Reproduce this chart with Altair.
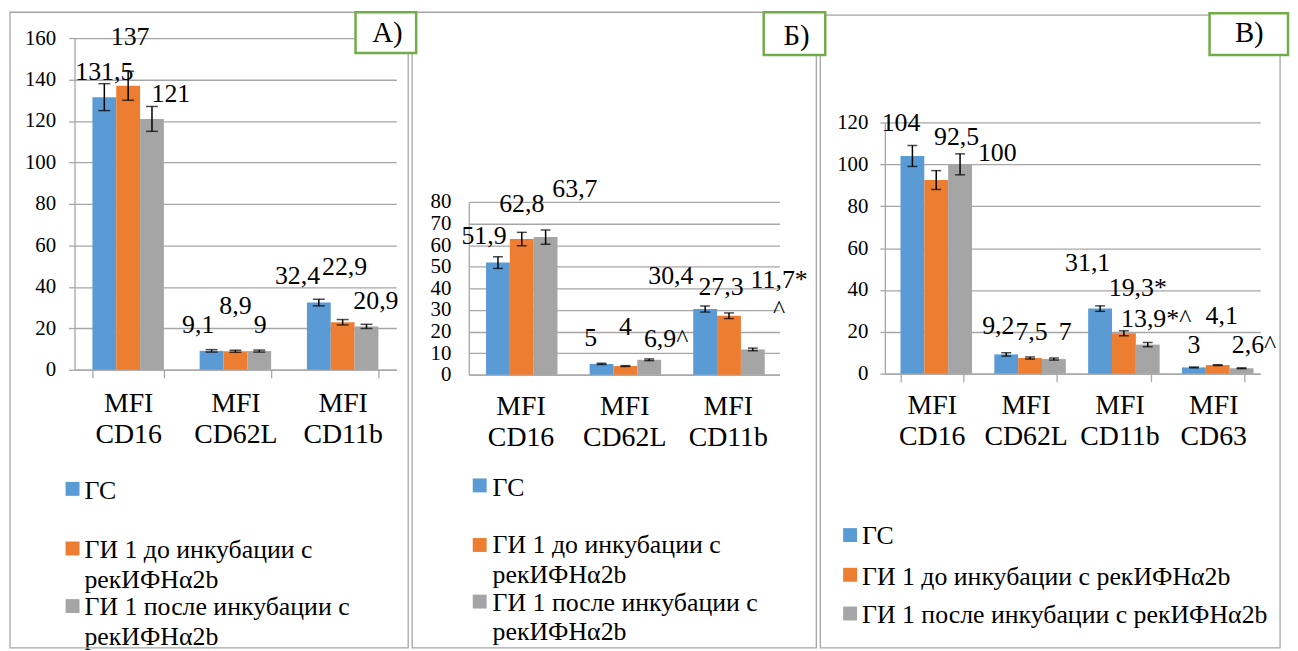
import altair as alt
import pandas as pd

FONT = "'Liberation Serif', 'Times New Roman', Times, serif"
GRAY = "#a6a6a6"
GREEN = "#70AD47"

# ---------------- data ----------------
series = ["ГС", "ГИ 1 до инкубации с рекИФНα2b", "ГИ 1 после инкубации с рекИФНα2b"]
colors = ["#5B9BD5", "#ED7D31", "#A5A5A5"]

# Panel А
cats_A = ["MFI CD16", "MFI CD62L", "MFI CD11b"]
A_gs = [131.5, 9.1, 32.4]
A_before = [137, 8.9, 22.9]
A_after = [121, 9, 20.9]
A_gs_err = [6.5, 0.6, 1.6]
A_before_err = [7, 0.5, 1.3]
A_after_err = [6, 0.5, 1.0]
A_labels = ["131,5", "137", "121", "9,1", "8,9", "9", "32,4", "22,9", "20,9"]

# Panel Б
cats_B = ["MFI CD16", "MFI CD62L", "MFI CD11b"]
B_gs = [51.9, 5, 30.4]
B_before = [62.8, 4, 27.3]
B_after = [63.7, 6.9, 11.7]
B_gs_err = [2.7, 0.3, 1.4]
B_before_err = [3.1, 0.2, 1.3]
B_after_err = [3.3, 0.4, 0.6]
B_labels = ["51,9", "62,8", "63,7", "5", "4", "6,9^", "30,4", "27,3", "11,7*\n^"]

# Panel В
cats_C = ["MFI CD16", "MFI CD62L", "MFI CD11b", "MFI CD63"]
C_gs = [104, 9.2, 31.1, 3]
C_before = [92.5, 7.5, 19.3, 4.1]
C_after = [100, 7, 13.9, 2.6]
C_gs_err = [5, 0.8, 1.3, 0.2]
C_before_err = [4.5, 0.5, 1.2, 0.2]
C_after_err = [5, 0.5, 1.0, 0.2]
C_labels = ["104", "92,5", "100", "9,2", "7,5", "7", "31,1", "19,3*", "13,9*^", "3", "4,1", "2,6^"]

legend_lines_wrapped = [["ГС"], ["ГИ 1 до инкубации с", "рекИФНα2b"], ["ГИ 1 после инкубации с", "рекИФНα2b"]]
legend_lines_single = [["ГС"], ["ГИ 1 до инкубации с рекИФНα2b"], ["ГИ 1 после инкубации с рекИФНα2b"]]

# ---------------- layout (pixel offsets, styling) ----------------
A_dx = [0, 2, 19, -13.5, 0, 1, -21.5, 2, 9.5]
A_dy = [-25.5, -49.5, -25.4, -26, -46, -26, -26.4, -56, -25.4]
B_dx = [-14, 0, 29.5, -11, 0, 17, -34.5, -8, 26.5]
B_dy = [-26.6, -35.4, -48, -26, -39, -21, -33.4, -28.6, -69.6]
C_dx = [-11.5, 20.5, 37.5, -8, 1.5, 11.5, -12.5, 14, 8.5, 0, 4, 12.5]
C_dy = [-32.8, -43, -11.7, -29, -25.7, -26.7, -46, -46, -26, -23, -49, -23]

one = pd.DataFrame({"z": [0]})


def build_df(cats, vals, errs, labels):
    rows = []
    for ci, c in enumerate(cats):
        for si, s in enumerate(series):
            v = vals[si][ci]
            e = errs[si][ci]
            rows.append(dict(cat=c, ser=s, val=v, lo=v - e, hi=v + e,
                             lab=labels[ci * len(series) + si]))
    return pd.DataFrame(rows)


def make_panel(cats, vals, errs, labels, dxs, dys, W, H, ymax, ystep, yrange,
               ytick, ylabpad, xtick, xlabpad, cap, frame, leg, extra=None):
    df = build_df(cats, vals, errs, labels)

    xaxis = dict(title=None, labelExpr="split(datum.label, ' ')", labelFont=FONT,
                 labelFontSize=28, labelLineHeight=31, labelColor="black", labelAngle=0,
                 domainColor=GRAY, domainWidth=1.3, tickBand="extent", tickColor=GRAY,
                 tickWidth=1.3, labelPadding=xlabpad, grid=False)
    if xtick > 0:
        xaxis.update(ticks=True, tickSize=xtick)
    else:
        xaxis.update(ticks=False)
    X = alt.X("cat:N", sort=cats,
              scale=alt.Scale(domain=cats, paddingInner=1 / 3, paddingOuter=1 / 6),
              axis=alt.Axis(**xaxis))
    XO = alt.XOffset("ser:N", sort=series,
                     scale=alt.Scale(domain=series, paddingInner=0, paddingOuter=0))

    yaxis = dict(title=None, values=list(range(0, ymax + 1, ystep)), grid=True,
                 gridColor=GRAY, gridWidth=1.3, domain=True, domainColor=GRAY,
                 domainWidth=1.3, tickColor=GRAY, tickWidth=1.3, labelFont=FONT,
                 labelFontSize=21, labelColor="black", labelPadding=ylabpad)
    if ytick > 0:
        yaxis.update(ticks=True, tickSize=ytick)
    else:
        yaxis.update(ticks=False)
    sc = dict(domain=[0, ymax], nice=False)
    if yrange is not None:
        sc["range"] = yrange
    yscale = alt.Scale(**sc)
    yax = alt.Axis(**yaxis)

    def Y(f):
        return alt.Y(f, scale=yscale, axis=yax)

    color = alt.Color("ser:N", scale=alt.Scale(domain=series, range=colors), legend=None)

    layers = []
    layers.append(alt.Chart(df).mark_bar().encode(x=X, xOffset=XO, y=Y("val:Q"), color=color))
    layers.append(alt.Chart(df).mark_rule(color="black", strokeWidth=1.5).encode(
        x=X, xOffset=XO, y=Y("lo:Q"), y2="hi:Q"))
    for f in ["lo:Q", "hi:Q"]:
        layers.append(alt.Chart(df).mark_tick(color="black", size=cap, thickness=1.5).encode(
            x=X, xOffset=XO, y=Y(f)))
    for i in range(len(df)):
        layers.append(alt.Chart(df.iloc[[i]]).mark_text(
            dx=dxs[i], dy=dys[i], align="center", baseline="middle", font=FONT,
            fontSize=26, color="black", lineBreak="\n", lineHeight=30).encode(
            x=X, xOffset=XO, y=Y("val:Q"), text="lab:N"))

    # legend (decoration)
    sx, tx, sq_c, txt_c, lines = leg
    for i, items in enumerate(lines):
        cy = sq_c[i]
        layers.append(alt.Chart(one).mark_rect(color=colors[i]).encode(
            x=alt.value(sx), x2=alt.value(sx + 14), y=alt.value(cy - 7), y2=alt.value(cy + 7)))
        for j, t in enumerate(items):
            layers.append(alt.Chart(one).mark_text(
                align="left", baseline="middle", font=FONT, fontSize=26, color="black").encode(
                x=alt.value(tx), y=alt.value(txt_c[i][j]), text=alt.value(t)))

    # frame
    fx, fx2, fy, fy2 = frame
    layers.append(alt.Chart(one).mark_rect(filled=False, stroke=GRAY, strokeWidth=1.3).encode(
        x=alt.value(fx), x2=alt.value(fx2), y=alt.value(fy), y2=alt.value(fy2)))

    if extra:
        for (bx, bx2, by, by2, label, lx, ly) in extra:
            layers.append(alt.Chart(one).mark_rect(fill="white", stroke=GREEN, strokeWidth=2.5).encode(
                x=alt.value(bx), x2=alt.value(bx2), y=alt.value(by), y2=alt.value(by2)))
            layers.append(alt.Chart(one).mark_text(
                align="center", baseline="middle", font=FONT, fontSize=29, color="black").encode(
                x=alt.value(lx), y=alt.value(ly), text=alt.value(label)))

    return alt.layer(*layers).properties(width=W, height=H)


pA = make_panel(cats_A, [A_gs, A_before, A_after], [A_gs_err, A_before_err, A_after_err],
                A_labels, A_dx, A_dy, 324, 334, 160, 20, None, 6, 13, 8, 12, 12,
                (-65, 336, -26, 614),
                (-9, 10, [454, 514, 572], [[456], [516, 546], [573, 603]], legend_lines_wrapped))

pB = make_panel(cats_B, [B_gs, B_before, B_after], [B_gs_err, B_before_err, B_after_err],
                B_labels, B_dx, B_dy, 313, 339, 80, 10, [339, 165], 0, 18, 0, 18, 10,
                (-57, 350, -26, 614),
                (4, 24, [450.5, 510.5, 567.5], [[452.7], [511, 541], [569, 598]], legend_lines_wrapped))

boxes = [
    (-533, -472, -26, 15, "А)", -501, -5),
    (-122, -60, -26, 17, "Б)", -89, -2),
    (327, 406, -25, 17, "В)", 367, -5),
]
pC = make_panel(cats_C, [C_gs, C_before, C_after], [C_gs_err, C_before_err, C_after_err],
                C_labels, C_dx, C_dy, 378, 338, 120, 20, [338, 85], 5, 12, 8, 10, 10,
                (-65, 398, -23, 614),
                (-42, -23, [500.5, 540.5, 579.5], [[501], [542.7], [581]], legend_lines_single),
                extra=boxes)


def spacer(w):
    return alt.Chart(one).mark_point(opacity=0).encode(
        x=alt.value(0), y=alt.value(0)).properties(width=w, height=10)


chart = alt.hconcat(pA, spacer(73), pB, spacer(106), pC, spacing=0, bounds="flush").properties(
    padding=0).configure_view(stroke="transparent")

chart.save("out.html", embed_options={"renderer": "svg", "actions": False})
